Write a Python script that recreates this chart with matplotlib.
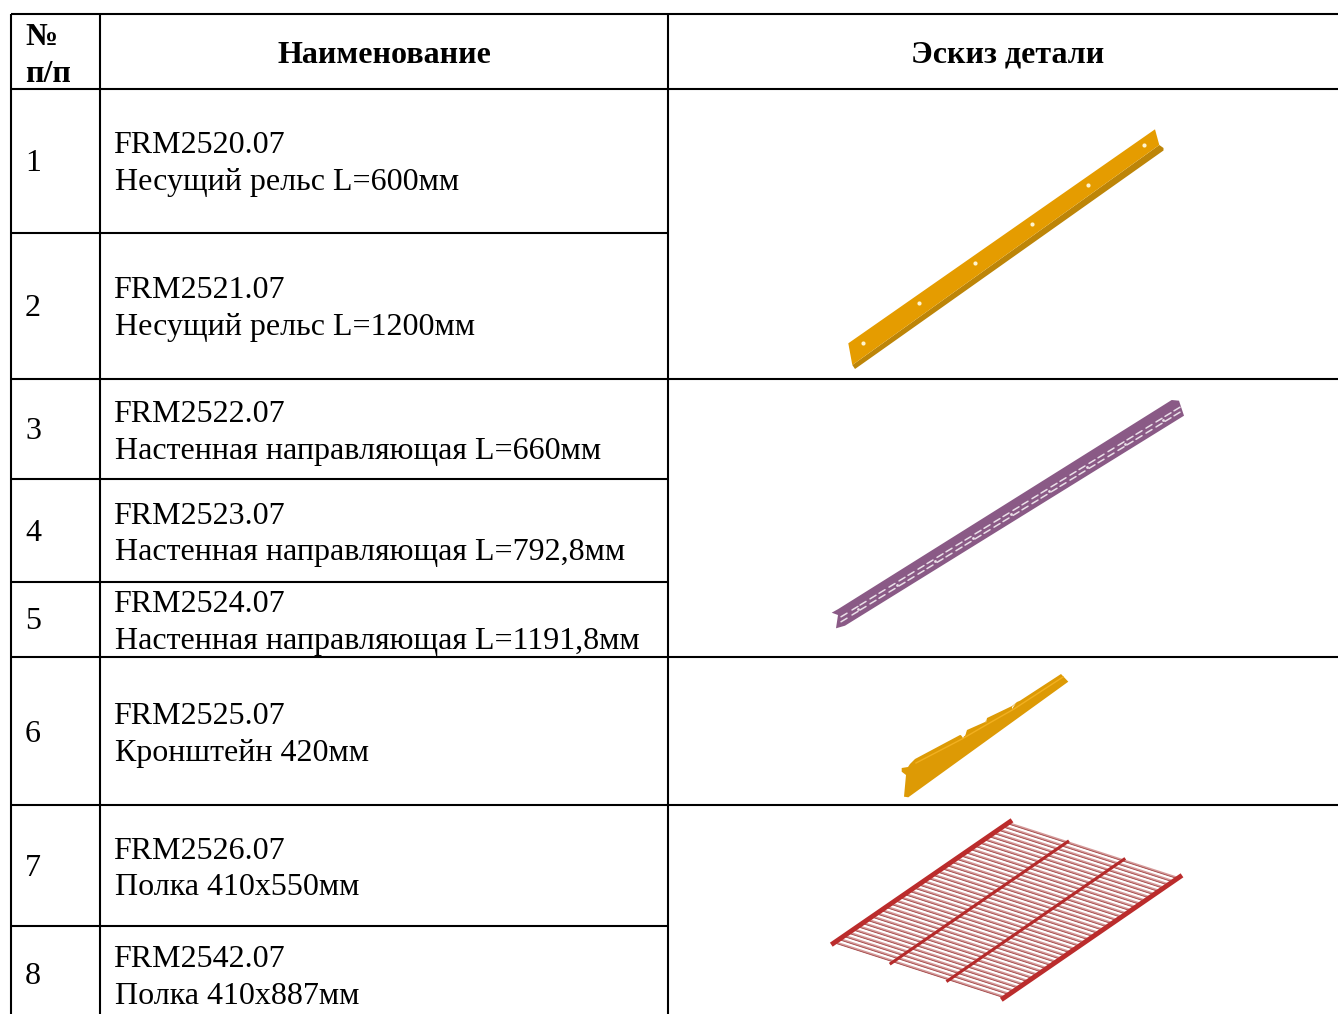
from matplotlib import pyplot as plt
from matplotlib.patches import Polygon
import numpy as np

plt.rcParams['font.family'] = ['Liberation Serif', 'DejaVu Serif']

W, H = 1338, 1014

numbers = ['1', '2', '3', '4', '5', '6', '7', '8']
codes = ['FRM2520.07', 'FRM2521.07', 'FRM2522.07', 'FRM2523.07',
         'FRM2524.07', 'FRM2525.07', 'FRM2526.07', 'FRM2542.07']
names = ['Несущий рельс L=600мм', 'Несущий рельс L=1200мм',
         'Настенная направляющая L=660мм', 'Настенная направляющая L=792,8мм',
         'Настенная направляющая L=1191,8мм', 'Кронштейн 420мм',
         'Полка 410x550мм', 'Полка 410x887мм']
headers = ['Наименование', 'Эскиз детали']

# baselines, px from the top
code_y = [153, 298, 422, 524, 612, 724, 859, 967]
name_y = [190, 335, 459, 560, 649, 761, 895, 1004]
number_y = [171, 316, 439, 541, 629, 742, 876, 984]

col_x = [11, 100, 668]
full_rows = [14, 89, 379, 657, 805]
short_rows = [233, 479, 582, 926]

rail_face = [(848.3, 343.3), (1155, 129.3), (1159.3, 145), (852.3, 365)]
rail_lip = [(852.3, 365), (1159.3, 145), (1163.5, 148), (1163.5, 150.5), (855, 369)]
rail_holes = [(863.3, 342.7), (919, 303.3), (975, 263.3),
              (1031.7, 224), (1087.7, 184.7), (1144.3, 144.7)]

guide_body = [(831.7, 612.7), (838.3, 609), (1171.7, 400), (1179, 400.7),
              (1184, 415.7), (845, 625.7), (836, 628.3), (838, 615)]
guide_slot_x = [844, 855, 863, 873, 882, 892, 902, 911, 921, 930, 940, 949,
                959, 968, 978, 987, 997, 1006, 1016, 1025, 1035, 1044, 1054,
                1063, 1073, 1082, 1092, 1101, 1111, 1121, 1130, 1139, 1149,
                1159, 1168, 1177]
guide_dot_x = [858, 897, 935, 973, 1011, 1049, 1087, 1125, 1163]

bracket_body = [(901.7, 768), (908, 767), (910, 764), (915, 759), (960, 735),
                (965, 736), (967, 730), (985, 722), (987, 718), (1012, 706),
                (1017, 702), (1020, 700.7), (1061, 674), (1068.3, 681.7),
                (908.3, 797.3), (904, 796.7), (906, 775), (901.7, 771.7)]
bracket_ridge = [(916, 763), (962, 739), (986, 725), (1014, 709), (1063, 677)]
bracket_notches = [[(961, 735), (966, 733), (963, 738)],
                   [(985, 719), (987, 716), (986, 723)],
                   [(1012, 707), (1016, 703), (1012, 709)]]

shelf_left = (833.3, 943.3)
shelf_top = (1010, 821.7)
shelf_right = (1180, 876.7)
shelf_bottom = (1003.3, 998.3)
shelf_bars = [((891, 963.3), (1067.7, 841.7)), ((947.7, 980.7), (1124, 859.3))]
n_wires = 38

fig = plt.figure(figsize=(W / 100, H / 100), dpi=100)
ax = fig.add_axes([0, 0, 1, 1])
ax.set_xlim(0, W)
ax.set_ylim(H, 0)
ax.axis('off')

# table grid
for y in full_rows:
    ax.plot([col_x[0], W], [y, y], color='black', lw=1.5, solid_capstyle='butt')
for y in short_rows:
    ax.plot([col_x[0], col_x[2]], [y, y], color='black', lw=1.5, solid_capstyle='butt')
for x in col_x:
    ax.plot([x, x], [14, H], color='black', lw=1.5, solid_capstyle='butt')

# text
ax.text(25, 45, '№', fontsize=23, fontweight='bold', va='baseline')
ax.text(25, 82, 'п/п', fontsize=23, fontweight='bold', va='baseline')
ax.text(384, 63, headers[0], fontsize=23, fontweight='bold', ha='center', va='baseline')
ax.text(1008, 62, headers[1], fontsize=23, fontweight='bold', ha='center', va='baseline')
for i in range(len(codes)):
    ax.text(25, number_y[i], numbers[i], fontsize=23, va='baseline')
    ax.text(113.5, code_y[i], codes[i], fontsize=23, va='baseline')
    ax.text(115, name_y[i], names[i], fontsize=23.05, va='baseline')

# rail sketch
ax.add_patch(Polygon(rail_lip, color='#bd8508', lw=0))
ax.add_patch(Polygon(rail_face, color='#e59c00', lw=0))
hx, hy = zip(*rail_holes)
ax.scatter(hx, hy, s=9, color='#fff4d0', marker='o', lw=0, zorder=3)

# wall guide sketch
ax.add_patch(Polygon(guide_body, color='#8a5a86', lw=0))
for x in guide_slot_x:
    y = 615.0 - 0.6186 * (x - 844)
    for off in (0, 5):
        ax.plot([x - 3, x + 3], [y + off + 1.8, y + off - 1.8], color='#eadfe8',
                lw=1.1, solid_capstyle='round', zorder=3)
for x in guide_dot_x:
    ax.scatter(x, 617.5 - 0.6186 * (x - 844), s=4, color='#eadfe8', lw=0, zorder=3)

# bracket sketch
ax.add_patch(Polygon(bracket_body, color='#dd9a05', lw=0))
rx, ry = zip(*bracket_ridge)
ax.plot(rx, ry, color='#f2b020', lw=1.0)
for notch in bracket_notches:
    ax.add_patch(Polygon(notch, color='white', lw=0, zorder=3))

# shelf sketch
for t in np.linspace(0.01, 0.99, n_wires):
    x0 = shelf_left[0] + t * (shelf_top[0] - shelf_left[0])
    y0 = shelf_left[1] + t * (shelf_top[1] - shelf_left[1])
    x1 = shelf_bottom[0] + t * (shelf_right[0] - shelf_bottom[0])
    y1 = shelf_bottom[1] + t * (shelf_right[1] - shelf_bottom[1])
    ax.plot([x0, x1], [y0, y1], color='#d59a9a', lw=1.4)
    ax.plot([x0, x1], [y0 + 1, y1 + 1], color='#a04444', lw=0.6)
for a, b in shelf_bars:
    ax.plot([a[0], b[0]], [a[1], b[1]], color='#b52a2a', lw=2.2)
ax.plot([shelf_left[0], shelf_top[0]], [shelf_left[1], shelf_top[1]], color='#bb2c2c', lw=3.5)
ax.plot([shelf_bottom[0], shelf_right[0]], [shelf_bottom[1], shelf_right[1]], color='#bb2c2c', lw=3.5)

fig.savefig('out.png', dpi=100, facecolor='white')
